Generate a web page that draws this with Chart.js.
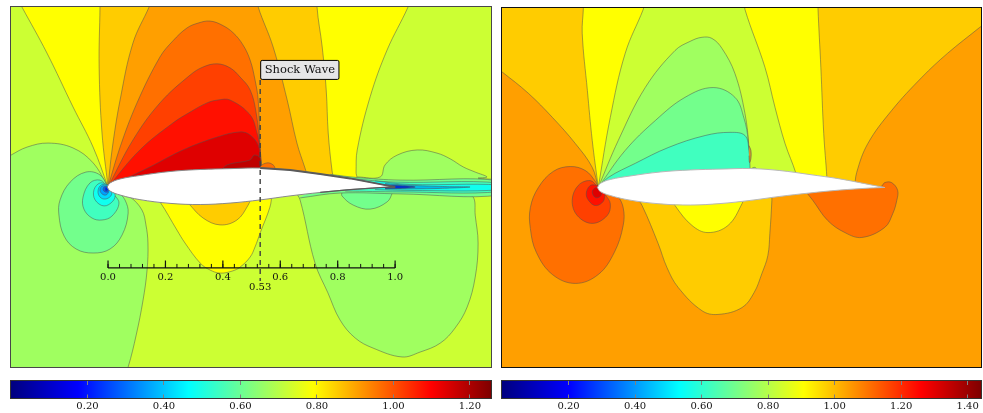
<!DOCTYPE html>
<html>
<head>
<meta charset="utf-8">
<script src="https://cdn.jsdelivr.net/npm/chart.js@4"></script>
<style>
  body { margin: 0; background: #fff; }
  canvas { position: absolute; }
  #left { left: 9px; top: 5px; }
  #right { left: 500px; top: 6px; }
  #leftBar { left: 9px; top: 379px; }
  #rightBar { left: 500px; top: 379px; }
</style>
</head>
<body>
<canvas id="left" width="484" height="364"></canvas>
<canvas id="right" width="483" height="363"></canvas>
<canvas id="leftBar" width="484" height="34"></canvas>
<canvas id="rightBar" width="483" height="34"></canvas>
<script>
// all contour outlines are [x/c, y/c]
const airfoil = [[-0.003,0],[0.007,0.014],[0.042,0.028],[0.111,0.040],[0.216,0.054],[0.321,0.061],[0.425,0.064],[0.530,0.066],[0.634,0.059],[0.739,0.045],[0.843,0.030],[0.948,0.010],[1.0,0],[1.0,0],[0.948,-0.002],[0.843,-0.009],[0.739,-0.019],[0.634,-0.031],[0.530,-0.045],[0.425,-0.056],[0.321,-0.061],[0.216,-0.057],[0.111,-0.044],[0.042,-0.028],[0.007,-0.014],[-0.003,0]];

// left plot
const leftFanYellow = [[0,0],[-0.052,0.139],[-0.122,0.279],[-0.213,0.467],[-0.300,0.627],[-0.324,0.672],[1.059,0.672],[1.045,0.627],[0.972,0.477],[0.913,0.314],[0.868,0.129],[0.864,0.052],[0.864,0.017],[0.321,0]];
const leftFanAmber = [[0,0],[-0.021,0.188],[-0.031,0.418],[-0.028,0.627],[-0.028,0.672],[0.732,0.672],[0.728,0.627],[0.746,0.488],[0.760,0.338],[0.767,0.188],[0.780,0.059],[0.787,0.024]];
const leftFanOrange = [[0,0],[0.014,0.129],[0.042,0.303],[0.087,0.502],[0.143,0.627],[0.160,0.672],[0.516,0.672],[0.523,0.627],[0.575,0.488],[0.624,0.303],[0.658,0.153],[0.686,0.066],[0.697,0.031]];
const leftFanDeep = [[0,0],[0.042,0.139],[0.101,0.293],[0.181,0.453],[0.226,0.509],[0.275,0.554],[0.314,0.571],[0.355,0.578],[0.397,0.564],[0.436,0.537],[0.470,0.495],[0.495,0.442],[0.512,0.373],[0.523,0.303],[0.530,0.129],[0.533,0.066],[0.533,0.031]];
const leftFanScarlet = [[0,0],[0.087,0.164],[0.181,0.293],[0.286,0.390],[0.331,0.418],[0.380,0.429],[0.425,0.415],[0.460,0.383],[0.495,0.338],[0.516,0.258],[0.530,0.129],[0.533,0.066],[0.533,0.031]];
const leftFanRed = [[0,0],[0.111,0.129],[0.226,0.223],[0.286,0.261],[0.345,0.293],[0.383,0.303],[0.425,0.303],[0.495,0.251],[0.519,0.188],[0.530,0.129],[0.533,0.066],[0.533,0.031]];
const leftFanCrimson = [[0,0],[0.146,0.070],[0.261,0.129],[0.380,0.174],[0.460,0.192],[0.495,0.181],[0.523,0.146],[0.530,0.105],[0.533,0.066],[0.533,0.031]];
const leftFanMaroon = [[0.390,0.052],[0.415,0.077],[0.495,0.094],[0.509,0.111],[0.530,0.101],[0.533,0.066],[0.533,0.031]];
const leftShockBlob = [[0.523,0.031],[0.530,0.070],[0.554,0.084],[0.575,0.077],[0.582,0.063],[0.582,0.031]];

const leftNoseGreen = [[0,0],[-0.052,0.084],[-0.122,0.136],[-0.209,0.153],[-0.282,0.139],[-0.338,0.111],[-0.376,0.087],[-0.40,-0.70],[0.056,-0.655],[0.070,-0.627],[0.098,-0.516],[0.122,-0.394],[0.136,-0.289],[0.139,-0.195],[0.132,-0.132],[0.118,-0.080],[0.077,-0.035],[0.024,-0.010]];
const leftNoseMint = [[0,0],[-0.028,0.042],[-0.077,0.052],[-0.132,0.017],[-0.167,-0.045],[-0.171,-0.098],[-0.153,-0.171],[-0.111,-0.216],[-0.052,-0.230],[0.007,-0.216],[0.049,-0.167],[0.070,-0.091],[0.059,-0.045],[0.035,-0.017]];
const leftNoseAqua = [[0,0],[-0.028,0.024],[-0.063,0.014],[-0.087,-0.035],[-0.084,-0.077],[-0.056,-0.108],[-0.021,-0.115],[0.014,-0.101],[0.038,-0.056],[0.017,-0.021]];
const leftNoseCyan = [[0,0.007],[-0.028,0.014],[-0.049,-0.010],[-0.045,-0.045],[-0.014,-0.066],[0.017,-0.049],[0.024,-0.024],[0.003,-0.003]];
const leftNoseSky = [[0,0.007],[-0.024,0.007],[-0.035,-0.014],[-0.028,-0.035],[-0.010,-0.042],[0.010,-0.031],[0.014,-0.014]];
const leftNoseAzure = [[-0.003,0.003],[-0.021,0.003],[-0.028,-0.010],[-0.021,-0.024],[-0.007,-0.028],[0.003,-0.017]];
const leftNoseBlue = [[-0.003,0.003],[-0.014,0],[-0.017,-0.010],[-0.010,-0.017],[0,-0.017],[0.003,-0.007]];
const leftNoseNavy = [[-0.007,0],[-0.010,-0.007],[-0.007,-0.014],[0,-0.010]];

const leftBelowYellow = [[0.146,-0.010],[0.181,-0.052],[0.240,-0.150],[0.268,-0.195],[0.321,-0.265],[0.355,-0.289],[0.390,-0.300],[0.432,-0.293],[0.460,-0.279],[0.495,-0.244],[0.512,-0.209],[0.530,-0.160],[0.564,-0.070],[0.571,-0.028]];
const leftBelowAmber = [[0.251,-0.028],[0.279,-0.056],[0.331,-0.108],[0.390,-0.132],[0.449,-0.115],[0.488,-0.063],[0.502,-0.028]];
const leftTailGreen = [[0.652,-0.017],[0.669,-0.045],[0.721,-0.265],[0.766,-0.369],[0.808,-0.463],[0.861,-0.526],[0.923,-0.561],[1.024,-0.592],[1.087,-0.575],[1.157,-0.544],[1.209,-0.491],[1.251,-0.418],[1.279,-0.314],[1.289,-0.195],[1.279,-0.098],[1.272,-0.035],[1.237,-0.031],[1.087,-0.021]];
const leftTailBlob = [[0.868,0.035],[0.948,0.035],[0.965,0.077],[1.007,0.111],[1.077,0.129],[1.146,0.118],[1.192,0.098],[1.237,0.070],[1.279,0.052],[1.320,0.035],[1.289,0.031],[1.320,0.028],[1.366,0.021],[1.366,-0.010],[0.868,-0.010]];
const leftTailMint = [[0.815,-0.017],[0.815,-0.031],[0.854,-0.063],[0.913,-0.077],[0.972,-0.052],[0.990,-0.021],[0.990,-0.010]];
const leftWakeMint = [[0.774,0.044],[0.868,0.033],[1.017,0.024],[1.366,0.021],[1.366,-0.028],[1.017,-0.024],[0.808,-0.021],[0.669,-0.038]];
const leftWakeAqua = [[0.843,0.030],[1.000,0.017],[1.366,0.014],[1.366,-0.016],[1.017,-0.017],[0.826,-0.014]];
const leftWakeCyan = [[0.930,0.021],[1.052,0.009],[1.366,0.007],[1.366,-0.010],[1.052,-0.012],[0.930,-0.009]];
const leftWakeSky = [[0.965,0.012],[1.035,0.007],[1.157,0.002],[1.261,0],[1.157,-0.005],[1.035,-0.007],[0.965,-0.007]];
const leftWakeBlue = [[0.965,0.007],[1.017,0.005],[1.070,0],[1.017,-0.005],[0.965,-0.005]];

// right plot
const rightFanAmber = [[0,0],[-0.021,0.070],[-0.080,0.153],[-0.160,0.244],[-0.244,0.328],[-0.334,0.401],[-0.376,0.432],[-0.376,0.672],[1.383,0.672],[1.383,0.599],[1.331,0.557],[1.219,0.467],[1.129,0.383],[1.024,0.268],[0.941,0.153],[0.902,0.052],[0.895,-0.003]];
const rightFanYellow = [[0,0],[-0.021,0.164],[-0.038,0.338],[-0.056,0.537],[-0.052,0.624],[-0.052,0.672],[0.767,0.672],[0.767,0.624],[0.777,0.418],[0.787,0.188],[0.798,0.035],[0.798,0.007]];
const rightFanLime = [[0,0],[0.042,0.244],[0.094,0.467],[0.157,0.620],[0.174,0.672],[0.505,0.672],[0.512,0.620],[0.582,0.418],[0.617,0.279],[0.652,0.153],[0.690,0.049],[0.697,0.007]];
const rightFanGreen = [[0,0],[0.070,0.164],[0.164,0.348],[0.268,0.477],[0.321,0.509],[0.362,0.523],[0.397,0.519],[0.432,0.484],[0.477,0.397],[0.512,0.258],[0.526,0.139],[0.526,0.059],[0.526,0.024]];
const rightFanMint = [[0,0],[0.094,0.129],[0.199,0.233],[0.303,0.314],[0.401,0.348],[0.477,0.314],[0.509,0.240],[0.523,0.164],[0.523,0.070],[0.523,0.024]];
const rightFanAqua = [[0,0],[0.035,0.035],[0.129,0.084],[0.244,0.139],[0.373,0.181],[0.460,0.192],[0.512,0.181],[0.526,0.129],[0.530,0.059],[0.530,0.024]];
const rightShockBlob = [[0.523,0.031],[0.533,0.063],[0.547,0.070],[0.557,0.056],[0.557,0.031]];
const rightShockSliver = [[0.526,0.146],[0.533,0.129],[0.533,0.101],[0.528,0.087],[0.526,0.111]];

const rightNoseDeep = [[0,0],[-0.010,0.021],[-0.045,0.059],[-0.098,0.073],[-0.157,0.056],[-0.209,0],[-0.237,-0.070],[-0.237,-0.143],[-0.216,-0.226],[-0.160,-0.303],[-0.080,-0.334],[0,-0.303],[0.056,-0.226],[0.087,-0.132],[0.087,-0.070],[0.066,-0.028],[0.042,-0.017]];
const rightNoseScarlet = [[0,0],[-0.028,0.024],[-0.070,0.007],[-0.091,-0.045],[-0.073,-0.098],[-0.021,-0.125],[0.031,-0.098],[0.042,-0.056],[0.024,-0.024]];
const rightNoseRed = [[0,0.007],[-0.028,0.007],[-0.042,-0.024],[-0.028,-0.052],[-0.007,-0.063],[0.017,-0.049],[0.024,-0.024]];
const rightNoseCrimson = [[0,0.003],[-0.014,-0.003],[-0.021,-0.017],[-0.010,-0.035],[0.007,-0.031],[0.014,-0.014]];
const rightBelowAmber = [[0.129,-0.028],[0.153,-0.063],[0.209,-0.195],[0.240,-0.279],[0.279,-0.348],[0.362,-0.429],[0.418,-0.442],[0.502,-0.418],[0.544,-0.366],[0.571,-0.300],[0.592,-0.237],[0.599,-0.160],[0.606,-0.045],[0.606,-0.010]];
const rightBelowYellow = [[0.251,-0.028],[0.268,-0.063],[0.327,-0.132],[0.383,-0.157],[0.453,-0.132],[0.502,-0.056],[0.512,-0.021]];
const rightTailDeep = [[0.721,-0.010],[0.749,-0.045],[0.801,-0.115],[0.861,-0.157],[0.920,-0.174],[1.000,-0.139],[1.028,-0.091],[1.042,-0.045],[1.045,-0.010],[1.024,0.017],[1.000,0.017],[0.986,0.003],[0.878,0.003]];

// chord ruler and shock position
const rulerTicks = [0,0.04,0.08,0.12,0.16,0.2,0.24,0.28,0.32,0.36,0.4,0.44,0.48,0.52,0.56,0.6,0.64,0.68,0.72,0.76,0.8,0.84,0.88,0.92,0.96,1];
const rulerMajor = [0,0.2,0.4,0.6,0.8,1];
const rulerLabels = [0,0.2,0.4,0.53,0.6,0.8,1];
const shockX = 0.53;

// colorbars
const leftBarTicks = [0.2,0.4,0.6,0.8,1.0,1.2];
const rightBarTicks = [0.2,0.4,0.6,0.8,1.0,1.2,1.4];
const jetStops = [0,0.14,0.37,0.63,0.875,1];
const jetColors = ['#00007f','#0000ff','#00ffff','#ffff00','#ff0000','#7f0000'];

const serif = '"DejaVu Serif"';
const lime = '#ccff33', green = '#a0ff60', mint = '#73ff8c', aqua = '#40ffbf', cyan = '#10ffef',
      yellow = '#ffff00', amber = '#ffcc00', orange = '#ff9f00', deep = '#ff7000',
      scarlet = '#ff4000', red = '#ff1000', crimson = '#df0000', maroon = '#bf0000';
const rulerY = -0.282, dashTop = 0.373, dashBottom = -0.327;

function toPoints(list) {
    return list.map(function (p) { return { x: p[0], y: p[1] }; });
}

function contour(list, color) {
    return {
        data: toPoints(list),
        showLine: true,
        fill: 'shape',
        backgroundColor: color,
        borderColor: 'rgba(80,80,80,0.5)',
        borderWidth: 1,
        pointRadius: 0,
        tension: 0.38
    };
}

function stroke(list, color, width, dash) {
    return {
        data: toPoints(list),
        showLine: true,
        fill: false,
        borderColor: color,
        borderWidth: width,
        borderDash: dash || [],
        pointRadius: 0,
        tension: 0
    };
}

function airfoilFill(line) {
    let d = contour(airfoil, '#ffffff');
    d.borderColor = line;
    return d;
}

function tickSegments(values, height) {
    let out = [];
    values.forEach(function (v) {
        out.push({ x: v, y: rulerY }, { x: v, y: rulerY + height }, { x: v, y: null });
    });
    return out;
}

// later datasets are painted on top
function stacked(list) {
    list.forEach(function (d, i) { d.order = -i; });
    return list;
}

function framePlugin(color, field) {
    return {
        id: 'frame',
        beforeDatasetsDraw: function (chart) {
            if (!field) return;
            const a = chart.chartArea;
            chart.ctx.fillStyle = field;
            chart.ctx.fillRect(a.left, a.top, a.right - a.left, a.bottom - a.top);
        },
        afterDraw: function (chart) {
            const a = chart.chartArea, ctx = chart.ctx;
            ctx.save();
            ctx.strokeStyle = color;
            ctx.lineWidth = 1;
            ctx.strokeRect(a.left - 0.5, a.top - 0.5, a.right - a.left + 1, a.bottom - a.top + 1);
            ctx.restore();
        }
    };
}

const shockLabel = {
    id: 'shockLabel',
    afterDatasetsDraw: function (chart) {
        const ctx = chart.ctx;
        const x = chart.scales.x.getPixelForValue(shockX);
        const y = chart.scales.y.getPixelForValue(dashTop);
        ctx.save();
        ctx.font = '11.5px ' + serif;
        const w = ctx.measureText('Shock Wave').width + 8;
        ctx.beginPath();
        ctx.roundRect(x + 0.5, y - 19.5, w, 19, 1.5);
        ctx.fillStyle = '#e6e6e6';
        ctx.fill();
        ctx.strokeStyle = '#000';
        ctx.lineWidth = 1;
        ctx.stroke();
        ctx.fillStyle = '#111';
        ctx.textBaseline = 'middle';
        ctx.fillText('Shock Wave', x + 4.5, y - 9.5);
        ctx.restore();
    }
};

const leftSets = stacked([
    contour(leftFanYellow, yellow),
    contour(leftFanAmber, amber),
    contour(leftFanOrange, orange),
    contour(leftFanDeep, deep),
    contour(leftFanScarlet, scarlet),
    contour(leftFanRed, red),
    contour(leftFanCrimson, crimson),
    contour(leftFanMaroon, maroon),
    contour(leftShockBlob, deep),
    contour(leftNoseGreen, green),
    contour(leftNoseMint, mint),
    contour(leftNoseAqua, aqua),
    contour(leftNoseCyan, cyan),
    contour(leftNoseSky, '#00d8ff'),
    contour(leftNoseAzure, '#00a0ff'),
    contour(leftNoseBlue, '#0060ff'),
    contour(leftNoseNavy, '#0020e0'),
    contour(leftBelowYellow, yellow),
    contour(leftBelowAmber, amber),
    contour(leftTailGreen, green),
    contour(leftTailBlob, green),
    contour(leftTailMint, mint),
    contour(leftWakeMint, mint),
    contour(leftWakeAqua, aqua),
    contour(leftWakeCyan, cyan),
    contour(leftWakeSky, '#00b8e8'),
    contour(leftWakeBlue, '#0030d0'),
    airfoilFill('#8a8a8a'),
    stroke(airfoil.slice(7, 13), '#5a5a5a', 2),
    stroke(airfoil.slice(13, 17), '#5a5a5a', 1.3),
    stroke([[shockX, dashTop], [shockX, dashBottom]], '#404040', 1.4, [5, 4]),
    stroke([[0, rulerY], [1, rulerY]], '#111', 1.2),
    Object.assign(stroke([], '#111', 1), { data: tickSegments(rulerTicks, 0.014) }),
    Object.assign(stroke([], '#111', 1.2), { data: tickSegments(rulerMajor, 0.026) })
]);

const rightSets = stacked([
    contour(rightFanAmber, amber),
    contour(rightFanYellow, yellow),
    contour(rightFanLime, lime),
    contour(rightFanGreen, green),
    contour(rightFanMint, mint),
    contour(rightFanAqua, aqua),
    contour(rightShockBlob, green),
    contour(rightShockSliver, '#c99a2e'),
    contour(rightNoseDeep, deep),
    contour(rightNoseScarlet, scarlet),
    contour(rightNoseRed, red),
    contour(rightNoseCrimson, crimson),
    contour(rightBelowAmber, amber),
    contour(rightBelowYellow, yellow),
    contour(rightTailDeep, deep),
    airfoilFill('#b8b8b8')
]);

new Chart(document.getElementById('left'), {
    type: 'scatter',
    data: { datasets: leftSets },
    options: {
        responsive: false,
        animation: false,
        layout: { padding: 2 },
        plugins: { legend: { display: false }, tooltip: { enabled: false } },
        scales: {
            x: {
                type: 'linear',
                min: -0.338,
                max: 1.334,
                position: { y: rulerY },
                grid: { display: false, drawTicks: false },
                border: { display: false },
                afterBuildTicks: function (s) {
                    s.ticks = rulerLabels.map(function (v) { return { value: v }; });
                },
                ticks: {
                    z: 1,
                    autoSkip: false,
                    maxRotation: 0,
                    padding: 4,
                    color: '#111',
                    font: { family: serif, size: 10, lineHeight: 1 },
                    callback: function (v) {
                        return v === shockX ? ['', '0.53'] : v.toFixed(1);
                    }
                }
            },
            y: { type: 'linear', min: -0.627, max: 0.627, display: false }
        }
    },
    plugins: [shockLabel, framePlugin('rgba(40,40,40,0.85)', lime)]
});

new Chart(document.getElementById('right'), {
    type: 'scatter',
    data: { datasets: rightSets },
    options: {
        responsive: false,
        animation: false,
        layout: { padding: 2 },
        plugins: { legend: { display: false }, tooltip: { enabled: false } },
        scales: {
            x: { type: 'linear', min: -0.336, max: 1.336, display: false },
            y: { type: 'linear', min: -0.625, max: 0.625, display: false }
        }
    },
    plugins: [framePlugin('#111', orange)]
});

function colorBar(id, top, ticks) {
    new Chart(document.getElementById(id), {
        type: 'bar',
        data: {
            labels: [''],
            datasets: [{
                data: [[0, top]],
                categoryPercentage: 1,
                barPercentage: 1,
                backgroundColor: function (c) {
                    const a = c.chart.chartArea;
                    if (!a) return '#000';
                    const g = c.chart.ctx.createLinearGradient(a.left, 0, a.right, 0);
                    jetStops.forEach(function (s, i) { g.addColorStop(s, jetColors[i]); });
                    return g;
                }
            }]
        },
        options: {
            indexAxis: 'y',
            responsive: false,
            animation: false,
            layout: { padding: { left: 2, right: 2, top: 2, bottom: 0 } },
            plugins: { legend: { display: false }, tooltip: { enabled: false } },
            scales: {
                x: {
                    type: 'linear',
                    min: 0,
                    max: top,
                    afterBuildTicks: function (s) {
                        s.ticks = ticks.map(function (v) { return { value: v }; });
                    },
                    afterFit: function (s) { s.height = 15; },
                    grid: { z: 1, color: '#808080', drawTicks: false },
                    border: { display: false, dash: [4, 9.5, 4] },
                    ticks: {
                        autoSkip: false,
                        maxRotation: 0,
                        padding: 2,
                        color: '#111',
                        font: { family: serif, size: 10 },
                        callback: function (v) { return v.toFixed(2); }
                    }
                },
                y: { display: false }
            }
        },
        plugins: [framePlugin('#333')]
    });
}

colorBar('leftBar', 1.255, leftBarTicks);
colorBar('rightBar', 1.44, rightBarTicks);
</script>
</body>
</html>
